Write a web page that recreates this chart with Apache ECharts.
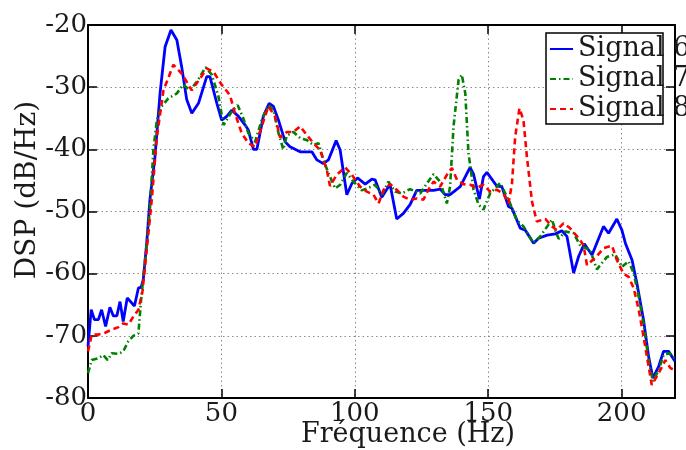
<!DOCTYPE html>
<html>
<head>
<meta charset="utf-8">
<script src="https://cdn.jsdelivr.net/npm/echarts@6/dist/echarts.min.js"></script>
<style>html,body{margin:0;padding:0;background:#fff;}#c{width:686px;height:450px;}</style>
</head>
<body>
<div id="c"></div>
<script>
const seriesNames = ['Signal 6', 'Signal 7', 'Signal 8'];
const xTicks = [0, 50, 100, 150, 200];
const yTicks = [-80, -70, -60, -50, -40, -30, -20];

const sig6Freq = [0, 1.2, 2.4, 3.9, 5.1, 6.6, 8.2, 9.5, 10.8, 12, 13.2, 14.7, 17.4, 18.9, 19.9, 20.7, 22, 23.2, 25.1, 27, 28.9, 31.1, 33.3, 35.1, 37, 38.9, 41.4, 44.5, 45.7, 48.3, 50.1, 52, 53.9, 56.4, 58.9, 60.1, 62, 63.3, 65.7, 67.9, 69.5, 71.4, 73.9, 75.7, 79.5, 83.9, 85.8, 88.2, 90.1, 93, 94.5, 97, 98.9, 101, 103.9, 106.4, 107.6, 110.1, 113.2, 115.7, 118.2, 120.7, 123.2, 127, 129.5, 132, 133.9, 135.7, 139.5, 143.2, 144.5, 146.7, 148.2, 149.5, 153.2, 155.1, 157.6, 158.9, 162, 163.9, 167, 168.9, 172.1, 175.2, 177.6, 179.5, 182, 183.9, 186, 188.9, 193.2, 195.1, 198.2, 200.1, 201.4, 203.9, 205.7, 208.2, 210.1, 211.7, 213.9, 215.7, 217.6, 220];
const sig6Dsp = [-71.7, -65.8, -67.4, -67.4, -65.8, -68.5, -65.4, -66.8, -66.8, -64.5, -67.7, -63.9, -65.2, -62.3, -62.2, -61, -55.1, -48.1, -41.2, -31, -23.5, -20.8, -22.4, -26.7, -32, -34.2, -32.6, -28.3, -28.3, -32.6, -35.3, -34.7, -33.7, -34.7, -36.1, -36.9, -40, -40, -34.7, -32.6, -33.1, -35.3, -38.8, -39.6, -40.4, -40.4, -41.7, -42.3, -41.7, -38.6, -40.1, -47.3, -45.5, -44.6, -45.6, -44.8, -44.9, -47.7, -45.6, -51.2, -50.3, -48.9, -46.6, -46.6, -46.6, -46.4, -47.3, -47.3, -46, -42.9, -44, -48, -44.4, -43.7, -45.9, -46, -49.2, -49.5, -52.7, -53, -55.1, -54.3, -53.8, -53.6, -53.1, -54, -59.9, -57.2, -55.2, -57, -52.4, -53.5, -51.2, -53, -55.1, -57.8, -61.5, -67.4, -73.3, -76.8, -74.9, -72.5, -72.5, -74.1];

const sig7Freq = [0, 1.4, 3.9, 5.7, 7.4, 8.9, 11.4, 13.2, 15.1, 17, 18.9, 19.9, 21.4, 23.2, 24.5, 25.8, 27.6, 30.1, 33.3, 35.7, 38.2, 40.8, 44.1, 46.4, 48.9, 50.8, 53.9, 56.1, 58.2, 60.1, 62.6, 65.1, 67.6, 69.5, 71.4, 73.2, 74.5, 77, 79.5, 82, 84.5, 86.4, 88.2, 90.1, 92.6, 94.5, 97, 99.5, 102.6, 105.1, 107.6, 110.1, 112.6, 115.1, 117.6, 120.7, 124.5, 127, 129.5, 132, 134.5, 135.7, 137, 138.9, 140.1, 141.4, 142.6, 144.5, 146.4, 148.2, 150.7, 154.5, 156.4, 158.2, 160.7, 163.2, 167, 169.5, 173.9, 175.1, 176.4, 178.9, 182, 184.5, 188.2, 190.7, 194.5, 197.6, 200.1, 202.6, 204.5, 206.4, 208.2, 210.1, 211.7, 213.9, 215.7, 218, 219.8];
const sig7Dsp = [-76, -73.9, -73.6, -73.1, -73.9, -72.8, -72.9, -72.5, -70.9, -70, -69.6, -64.2, -57.8, -49.7, -40.1, -35.3, -33.1, -31.8, -31, -29.6, -30.5, -29.1, -26.8, -28, -31.5, -36.1, -33.9, -32.9, -35, -37.4, -38.8, -35.3, -32.9, -33.7, -37.4, -40, -37.8, -37.2, -38.2, -38.5, -39.3, -39, -41.7, -43.8, -46.3, -45.7, -43.8, -45.2, -46.6, -46.2, -45.7, -47.3, -45.2, -46.8, -47.1, -46.4, -47.1, -45.5, -44, -45.2, -48.7, -46, -36.3, -28.8, -28, -31, -40.6, -46.5, -48.9, -49.7, -47.1, -45.4, -47.1, -48.7, -51.4, -52.4, -55.1, -54, -51.3, -53, -54.4, -53.2, -53.5, -55.5, -56.2, -59.3, -57.3, -56.9, -58.9, -58, -59.9, -63.7, -68, -73.9, -77.3, -75.5, -73.1, -72.8, -73.6];

const sig8Freq = [0, 1.4, 3.9, 6.4, 8.9, 11.4, 13.2, 15.1, 17, 18.9, 20.4, 22, 23.9, 25.8, 28.3, 32, 35.1, 38.9, 42, 44.5, 47, 50.1, 53.2, 55.1, 57.6, 60.1, 62.6, 65.1, 67.6, 70.1, 72, 74.5, 77, 79.5, 82, 84.5, 87, 89.5, 90.7, 93.2, 96.4, 98.9, 102, 104.5, 107, 108.9, 110.8, 113.2, 115.7, 118.2, 120.7, 123.2, 125.7, 127.6, 129.5, 132, 134.5, 136.4, 138.3, 140.7, 143.2, 145.7, 148.2, 150.7, 153.2, 155.7, 157.6, 158.9, 160.1, 161.7, 163.2, 164.5, 166.4, 168.2, 171.4, 173.9, 175.7, 178.2, 180.7, 183.9, 185.7, 187, 190.7, 193.2, 196.4, 198.2, 200.7, 202.6, 204.5, 206.4, 208.2, 210.1, 211.3, 213.9, 216.4, 218.3, 219.8];
const sig8Dsp = [-72.5, -69.8, -69.8, -69.5, -69, -68.6, -68, -68.2, -66.9, -65.8, -62.9, -56.2, -48.1, -38, -30.5, -26.4, -27.8, -30.5, -28.6, -27, -27.5, -29.6, -31.3, -34.2, -37.4, -39, -39.6, -36.3, -33.1, -34.7, -38.1, -37.2, -37.2, -36.3, -37.7, -39, -40.1, -43.3, -45.9, -44.1, -42.9, -44.1, -46, -46.8, -47.3, -48.7, -46.5, -45.6, -46.5, -47.6, -48.1, -47.9, -48.1, -46.5, -45.2, -46, -44.1, -43, -44.9, -45.6, -45.7, -46.2, -45.7, -46.8, -46.5, -47.1, -48.7, -45.5, -38, -33.4, -35.3, -41.2, -48.4, -51.6, -51.2, -52.4, -53, -51.9, -52.7, -54.3, -55.4, -58.6, -57.2, -55.9, -55.5, -57.8, -60, -60.5, -62.3, -65.8, -70.1, -74.9, -77.9, -76, -73.9, -75.2, -75.5];

const FONT = 'DejaVu Serif';
const TXT = '#1a1a1a';

function pairs(xs, ys) { return xs.map((x, i) => [x, ys[i]]); }

const chart = echarts.init(document.getElementById('c'), null, {renderer: 'canvas'});

const axisCommon = {
  type: 'value',
  axisLine: {show: true, onZero: false, lineStyle: {color: '#000', width: 2}},
  axisTick: {show: true, inside: true, length: 9, lineStyle: {color: '#000', width: 1.5}},
};

chart.setOption({
  animation: false,
  backgroundColor: '#fff',
  grid: {left: 88, right: 11, top: 25, bottom: 52, containLabel: false},
  xAxis: [
    Object.assign({}, axisCommon, {
      min: 0, max: 220, interval: 50, position: 'bottom',
      axisLabel: {show: true, margin: 3, fontFamily: FONT, fontSize: 26, color: TXT,
        formatter: v => xTicks.indexOf(v) >= 0 ? String(v) : ''},
      splitLine: {show: true, lineStyle: {color: '#8a8a8a', width: 1, type: [1.5, 3]}}
    }),
    Object.assign({}, axisCommon, {
      min: 0, max: 220, interval: 50, position: 'top',
      axisLabel: {show: false}, splitLine: {show: false}
    })
  ],
  yAxis: [
    Object.assign({}, axisCommon, {
      min: -80, max: -20, interval: 10, position: 'left',
      axisLabel: {show: true, margin: 1, fontFamily: FONT, fontSize: 26, color: TXT,
        formatter: v => yTicks.indexOf(v) >= 0 ? String(v) : ''},
      splitLine: {show: true, lineStyle: {color: '#8a8a8a', width: 1, type: [1.5, 3]}}
    }),
    Object.assign({}, axisCommon, {
      min: -80, max: -20, interval: 10, position: 'right',
      axisLabel: {show: false}, splitLine: {show: false}
    })
  ],
  legend: {
    orient: 'vertical', left: 549, top: 35, padding: 0, itemGap: 2,
    itemWidth: 23, itemHeight: 10, z: 100,
    data: seriesNames,
    itemStyle: {opacity: 0},
    textStyle: {fontFamily: FONT, fontSize: 27, color: TXT, lineHeight: 28},
  },
  graphic: [
    {type: 'rect', z: 50, shape: {x: 546, y: 33, width: 117, height: 91},
     style: {fill: '#fff', stroke: '#000', lineWidth: 1.5}},
    {type: 'text', z: 60, x: 408, y: 435,
     style: {text: 'Fréquence (Hz)', font: '27px "DejaVu Serif"', fill: TXT, textAlign: 'center', textVerticalAlign: 'middle'}},
    {type: 'text', z: 60, x: 28, y: 190, rotation: Math.PI / 2,
     style: {text: 'DSP (dB/Hz)', font: '28px "DejaVu Serif"', fill: TXT, textAlign: 'center', textVerticalAlign: 'middle'}}
  ],
  series: [
    {name: seriesNames[0], type: 'line', symbol: 'none', xAxisIndex: 0, yAxisIndex: 0,
     data: pairs(sig6Freq, sig6Dsp), color: '#0000ff',
     lineStyle: {color: '#0000ff', width: 2.8, type: 'solid'}},
    {name: seriesNames[1], type: 'line', symbol: 'none', xAxisIndex: 0, yAxisIndex: 0,
     data: pairs(sig7Freq, sig7Dsp), color: '#008000',
     lineStyle: {color: '#008000', width: 2.6, type: [6, 3, 1.5, 3]}},
    {name: seriesNames[2], type: 'line', symbol: 'none', xAxisIndex: 0, yAxisIndex: 0,
     data: pairs(sig8Freq, sig8Dsp), color: '#ff0000',
     lineStyle: {color: '#ff0000', width: 2.6, type: [6, 4]}}
  ]
});
</script>
</body>
</html>
